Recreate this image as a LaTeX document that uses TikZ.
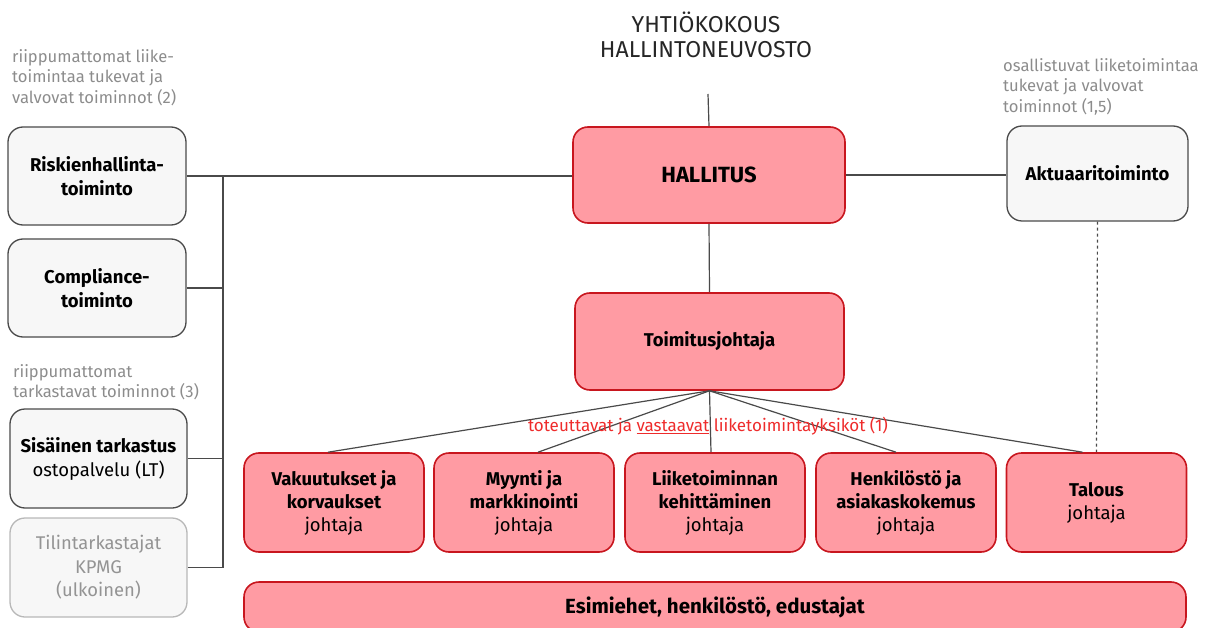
\documentclass[tikz,border=0pt]{standalone}
\usepackage{fontspec}
\setmainfont{Fira Sans}
\usetikzlibrary{positioning}

\definecolor{boxred}{HTML}{FF9BA3}
\definecolor{edgered}{HTML}{C8161E}
\definecolor{notegray}{HTML}{8C8C8C}
\definecolor{linegray}{HTML}{4A4A4A}
\definecolor{labelred}{HTML}{EE2B2B}

\begin{document}
\begin{tikzpicture}[x=1pt, y=-1pt,
  unitbox/.style={draw=edgered, fill=boxred, line width=1.6pt, rounded corners=15pt,
    align=center, text=black, font=\fontsize{18.5}{23}\selectfont\bfseries,
    minimum width=180pt, minimum height=99pt, inner sep=2pt},
  supbox/.style={draw=linegray, fill=black!3, line width=1.3pt, rounded corners=15pt,
    align=center, text=black, font=\fontsize{18.5}{24}\selectfont\bfseries,
    minimum width=178pt, minimum height=98pt, inner sep=2pt},
  extbox/.style={supbox, draw=black!28, text=black!42, font=\fontsize{18.4}{23.5}\selectfont},
  note/.style={text=notegray, align=left, anchor=north west, inner sep=0pt,
    font=\fontsize{16.6}{20.5}\selectfont},
  link/.style={draw=linegray, line width=1.2pt}]
  \useasboundingbox (0,0) rectangle (1209,628);

  % Top of the structure
  \node[align=center, text=black!85, font=\fontsize{23}{25}\selectfont] (yk) at (706,35)
    {YHTIÖKOKOUS\\HALLINTONEUVOSTO};
  \node[unitbox, minimum width=272pt, minimum height=96pt, font=\fontsize{22}{23}\selectfont\bfseries]
    (hal) at (709,175) {HALLITUS};
  \node[unitbox, minimum width=269pt, minimum height=97pt] (tj) at (709.5,341.5) {Toimitusjohtaja};
  \coordinate (top) at (708,94);

  % Supporting functions
  \node[note] (n2) at (12,49) {riippumattomat liike-\\toimintaa tukevat ja\\valvovat toiminnot (2)};
  \node[supbox] (risk) at (97,176) {Riskienhallinta-\\toiminto};
  \node[supbox] (comp) at (97,288) {Compliance-\\toiminto};
  \node[note] (n3) at (13,364) {riippumattomat\\tarkastavat toiminnot (3)};
  \node[supbox, minimum width=177pt, minimum height=99pt] (sis) at (98.5,458.5)
    {Sisäinen tarkastus\\\mdseries ostopalvelu (LT)};
  \node[extbox, minimum width=177pt, minimum height=99pt] (tili) at (98.5,567.5)
    {Tilintarkastajat\\KPMG\\(ulkoinen)};
  \node[note] (n15) at (1003,58) {osallistuvat liiketoimintaa\\tukevat ja valvovat\\toiminnot (1,5)};
  \node[supbox, minimum width=181pt, minimum height=95pt] (akt) at (1097.5,173.5) {Aktuaaritoiminto};

  % Business units
  \node[unitbox] (vak) at (334,502.5) {Vakuutukset ja\\korvaukset\\\mdseries johtaja};
  \node[unitbox] (myy) at (524,502.5) {Myynti ja\\markkinointi\\\mdseries johtaja};
  \node[unitbox] (lii) at (715,502.5) {Liiketoiminnan\\kehittäminen\\\mdseries johtaja};
  \node[unitbox] (hen) at (906,502.5) {Henkilöstö ja\\asiakaskokemus\\\mdseries johtaja};
  \node[unitbox] (tal) at (1096.5,502.5) {Talous\\\mdseries johtaja};
  \node[unitbox, minimum width=942pt, minimum height=50pt, font=\fontsize{20.5}{23}\selectfont\bfseries]
    (esi) at (715,607) {Esimiehet, henkilöstö, edustajat};

  % Connectors
  \coordinate (bus) at (223,176);
  \draw[link] (top) -- (hal.north);
  \draw[link] (hal.south) -- (tj.north);
  \draw[link] (risk.east) -- (risk.east -| hal.west);
  \draw[link] (hal.east) -- (hal.east -| akt.west);
  \draw[link] (bus) -- (bus |- tili.east);
  \draw[link] (comp.east) -- (comp.east -| bus);
  \draw[link] (sis.east) -- (sis.east -| bus);
  \draw[link] (tili.east) -- (tili.east -| bus);
  \draw[link, dashed] (akt.south) -- (tal.north);
  \foreach \u/\dx in {vak/-6, myy/14, lii/-4, hen/-10, tal/-14}
    \draw[link] (tj.south) -- ([xshift=\dx pt]\u.north);

  \node[text=labelred, font=\fontsize{17}{19}\selectfont, inner sep=0pt] (lbl) at (708,426)
    {toteuttavat ja \underline{vastaavat} liiketoimintayksiköt (1)};
\end{tikzpicture}
\end{document}
